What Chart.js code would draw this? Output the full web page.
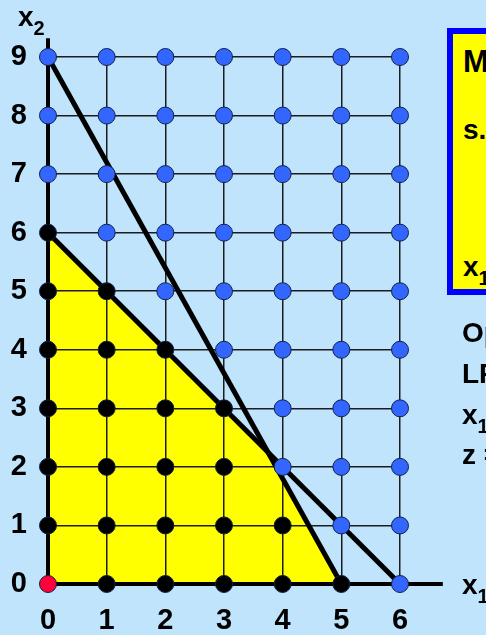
<!DOCTYPE html>
<html>
<head>
<meta charset="utf-8">
<script src="https://cdn.jsdelivr.net/npm/chart.js@4"></script>
<style>
  html, body { margin: 0; padding: 0; background: #c0e4fc; overflow: hidden; }
  #wrap { position: relative; width: 486px; height: 635px; overflow: hidden; font-family: 'Liberation Sans', Arial, sans-serif; font-weight: bold; color: #000; }
  #chart { position: absolute; left: 0; top: 0; }
  .txt { position: absolute; white-space: nowrap; font-size: 28px; line-height: 28px; }
  .txt sub { font-size: 20px; position: relative; top: 9px; vertical-align: baseline; }
  #box { position: absolute; left: 447px; top: 28px; width: 320px; height: 255px; border: 6px solid #0000ff; background: #ffff00; }
</style>
</head>
<body>
<div id="wrap">
  <canvas id="chart" width="486" height="635"></canvas>
  <div class="txt" style="left:18px; top:3px;">x<sub>2</sub></div>
  <div class="txt" style="left:462px; top:571px;">x<sub>1</sub></div>
  <div id="box"></div>
  <div class="txt" style="left:463px; top:46px; font-size:31px; line-height:31px;">Max z = x<sub>1</sub> + 5x<sub>2</sub></div>
  <div class="txt" style="left:463px; top:116px;">s.t.&nbsp; x<sub>1</sub> + x<sub>2</sub> ≤ 6</div>
  <div class="txt" style="left:523px; top:161px;">9x<sub>1</sub> + 5x<sub>2</sub> ≤ 45</div>
  <div class="txt" style="left:463px; top:253px;">x<sub>1</sub>, x<sub>2</sub> ≥ 0 integer</div>
  <div class="txt" style="left:462px; top:319px;">Optimal solution of</div>
  <div class="txt" style="left:462px; top:360px;">LP relaxation:</div>
  <div class="txt" style="left:462px; top:401px;">x<sub>1</sub> = 3.75, x<sub>2</sub> = 2.25</div>
  <div class="txt" style="left:462px; top:441px;">z = 15</div>
</div>
<script>
// integer points, x1 / x2
const feasiblePts = [
  [1, 0], [2, 0], [3, 0], [4, 0], [5, 0],
  [0, 1], [1, 1], [2, 1], [3, 1], [4, 1],
  [0, 2], [1, 2], [2, 2], [3, 2],
  [0, 3], [1, 3], [2, 3], [3, 3],
  [0, 4], [1, 4], [2, 4],
  [0, 5], [1, 5],
  [0, 6],
]
const infeasiblePts = [
  [6, 0],
  [5, 1], [6, 1],
  [4, 2], [5, 2], [6, 2],
  [4, 3], [5, 3], [6, 3],
  [3, 4], [4, 4], [5, 4], [6, 4],
  [2, 5], [3, 5], [4, 5], [5, 5], [6, 5],
  [1, 6], [2, 6], [3, 6], [4, 6], [5, 6], [6, 6],
  [0, 7], [1, 7], [2, 7], [3, 7], [4, 7], [5, 7], [6, 7],
  [0, 8], [1, 8], [2, 8], [3, 8], [4, 8], [5, 8], [6, 8],
  [0, 9], [1, 9], [2, 9], [3, 9], [4, 9], [5, 9], [6, 9],
]
const originPt = [[0, 0]]

// constraints x1 + x2 <= 6 and 9x1 + 5x2 <= 45
const constraintA = [[0, 6], [6, 0]]
const constraintB = [[0, 9], [5, 0]]
// upper edge of the LP region (filled down to x2 = 0)
const lpRegionTop = [[0, 6], [3.75, 2.25], [5, 0]]

const xAxisLine = [[0, 0], [6.73, 0]]
const yAxisLine = [[0, 0], [0, 9.32]]

const xTicks = [0, 1, 2, 3, 4, 5, 6]
const yTicks = [0, 1, 2, 3, 4, 5, 6, 7, 8, 9]

const toXY = (list) => list.map(([x, y]) => ({ x: x, y: y }))

const dots = (pts, color, order) => ({
  data: toXY(pts),
  showLine: false,
  pointRadius: 8.5,
  pointHoverRadius: 8.5,
  pointBackgroundColor: color,
  pointBorderColor: '#12204a',
  pointBorderWidth: 1,
  clip: false,
  order: order,
})

const segment = (pts, width, order) => ({
  data: toXY(pts),
  borderColor: '#000',
  borderWidth: width,
  pointRadius: 0,
  tension: 0,
  fill: false,
  clip: false,
  order: order,
})

const tickFont = { family: "'Liberation Sans', Arial, sans-serif", weight: 'bold', size: 29 }

new Chart(document.getElementById('chart'), {
  type: 'line',
  data: {
    datasets: [
      dots(originPt, '#ff0038', 0),
      dots(feasiblePts, '#000', 1),
      dots(infeasiblePts, '#3366ff', 2),
      segment(constraintA, 5, 3),
      segment(constraintB, 5, 4),
      segment(xAxisLine, 4, 5),
      segment(yAxisLine, 4, 6),
      {
        data: toXY(lpRegionTop),
        borderWidth: 0,
        pointRadius: 0,
        tension: 0,
        backgroundColor: '#ffff00',
        fill: 'origin',
        order: 7,
      },
    ],
  },
  options: {
    responsive: false,
    animation: false,
    events: [],
    layout: { padding: { left: 0, right: 86, top: 57, bottom: 0 } },
    plugins: {
      legend: { display: false },
      tooltip: { enabled: false },
      filler: { drawTime: 'beforeDraw' },
    },
    scales: {
      x: {
        type: 'linear',
        min: 0,
        max: 6,
        afterFit: (scale) => { scale.height = 51 },
        afterBuildTicks: (scale) => { scale.ticks = xTicks.map((v) => ({ value: v })) },
        ticks: { font: tickFont, color: '#000', padding: 20, autoSkip: false, maxRotation: 0 },
        grid: { color: '#1c1c1c', lineWidth: 1.5, drawTicks: false },
        border: { display: false },
      },
      y: {
        type: 'linear',
        min: 0,
        max: 9,
        afterFit: (scale) => { scale.width = 48 },
        afterBuildTicks: (scale) => { scale.ticks = yTicks.map((v) => ({ value: v })) },
        ticks: { font: tickFont, color: '#000', padding: 21, autoSkip: false },
        grid: { color: '#1c1c1c', lineWidth: 1.5, drawTicks: false },
        border: { display: false },
      },
    },
  },
})
</script>
</body>
</html>
